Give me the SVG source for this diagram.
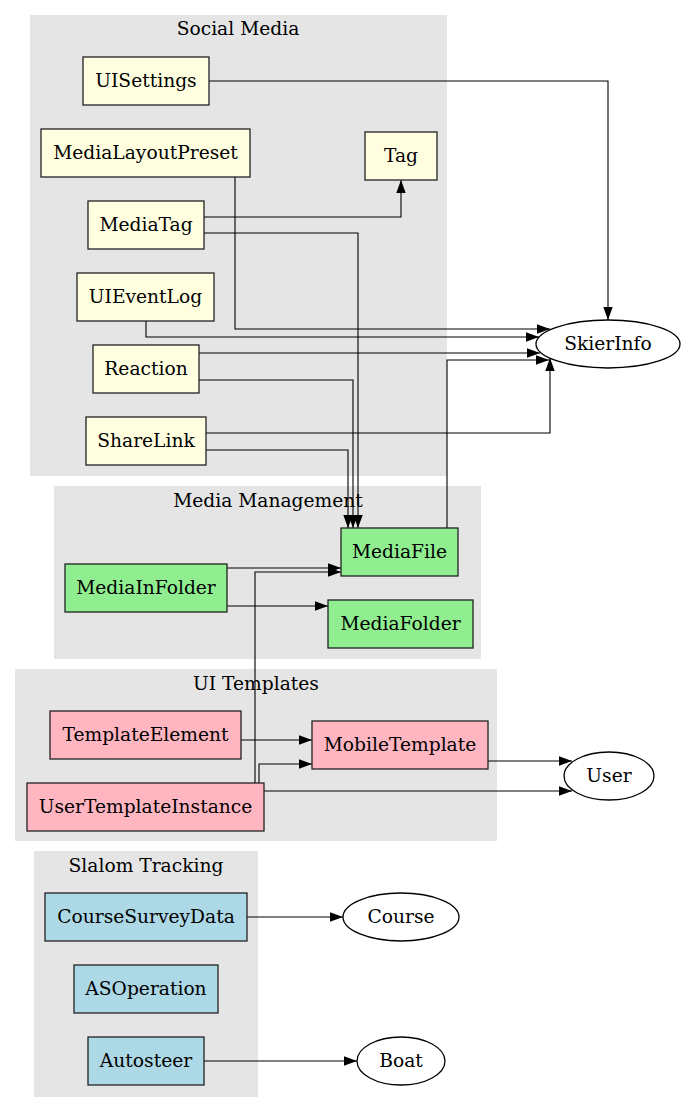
<svg xmlns="http://www.w3.org/2000/svg" width="682" height="1112" viewBox="0 0 682 1112">
<style>
  text { font-family: "DejaVu Serif", "Liberation Serif", serif; font-size: 18.67px; fill: #000; text-anchor: middle; }
  .cluster { fill: #e5e5e5; stroke: none; }
  .node rect, .node ellipse { stroke: #222; stroke-width: 1.3; }
  .sm rect { fill: #ffffe0; }
  .mm rect { fill: #90ee90; }
  .ui rect { fill: #ffb6c1; }
  .st rect { fill: #add8e6; }
  .ext ellipse { fill: #fff; stroke: #000; }
  .edges path { fill: none; stroke: #000; stroke-width: 1.1; marker-end: url(#arrow); }
</style>
<defs>
  <marker id="arrow" markerUnits="userSpaceOnUse" markerWidth="14" markerHeight="10" refX="13" refY="4.7" orient="auto">
    <path d="M0,0 L13,4.7 L0,9.4 z" fill="#000"/>
  </marker>
</defs>
<rect width="682" height="1112" fill="#fff"/>

<g id="cluster_social">
  <rect class="cluster" x="30" y="15" width="417" height="461"/>
  <text x="238" y="35">Social Media</text>
</g>
<g id="cluster_media">
  <rect class="cluster" x="54" y="486" width="427" height="173"/>
  <text x="268" y="507">Media Management</text>
</g>
<g id="cluster_ui">
  <rect class="cluster" x="15" y="669" width="482" height="172"/>
  <text x="256" y="690">UI Templates</text>
</g>
<g id="cluster_slalom">
  <rect class="cluster" x="34" y="851" width="224" height="246"/>
  <text x="146" y="872">Slalom Tracking</text>
</g>

<g id="edges" class="edges">
  <path d="M209,81 H608 V320"/>
  <path d="M235,177 V329 H550"/>
  <path d="M204,217 H401 V180"/>
  <path d="M204,233 H358 V528"/>
  <path d="M146,321 V337 H539"/>
  <path d="M199,353 H540"/>
  <path d="M199,380 H353 V528"/>
  <path d="M206,433 H550 V358"/>
  <path d="M206,450 H348 V528"/>
  <path d="M447,528 V360 H549"/>
  <path d="M227,568 H341"/>
  <path d="M227,606 H328"/>
  <path d="M255,783 V572 H341"/>
  <path d="M241,740 H312"/>
  <path d="M259,783 V764 H312"/>
  <path d="M488,761 H572"/>
  <path d="M264,791 H572"/>
  <path d="M247,917 H343"/>
  <path d="M204,1061 H357"/>
</g>

<g id="UISettings" class="node sm"><rect x="83" y="57" width="126" height="48"/><text x="146" y="87">UISettings</text></g>
<g id="MediaLayoutPreset" class="node sm"><rect x="41" y="129" width="209" height="48"/><text x="145.5" y="159">MediaLayoutPreset</text></g>
<g id="Tag" class="node sm"><rect x="365" y="132" width="72" height="48"/><text x="401" y="162">Tag</text></g>
<g id="MediaTag" class="node sm"><rect x="88" y="201" width="116" height="48"/><text x="146" y="231">MediaTag</text></g>
<g id="UIEventLog" class="node sm"><rect x="77" y="273" width="137" height="48"/><text x="145.5" y="303">UIEventLog</text></g>
<g id="Reaction" class="node sm"><rect x="93" y="345" width="106" height="48"/><text x="146" y="375">Reaction</text></g>
<g id="ShareLink" class="node sm"><rect x="86" y="417" width="120" height="48"/><text x="146" y="447">ShareLink</text></g>

<g id="MediaFile" class="node mm"><rect x="341" y="528" width="117" height="48"/><text x="399.5" y="558">MediaFile</text></g>
<g id="MediaInFolder" class="node mm"><rect x="65" y="564" width="162" height="48"/><text x="146" y="594">MediaInFolder</text></g>
<g id="MediaFolder" class="node mm"><rect x="328" y="600" width="145" height="48"/><text x="400.5" y="630">MediaFolder</text></g>

<g id="TemplateElement" class="node ui"><rect x="50" y="711" width="191" height="48"/><text x="145.5" y="741">TemplateElement</text></g>
<g id="MobileTemplate" class="node ui"><rect x="312" y="721" width="176" height="48"/><text x="400" y="751">MobileTemplate</text></g>
<g id="UserTemplateInstance" class="node ui"><rect x="27" y="783" width="237" height="48"/><text x="145.5" y="813">UserTemplateInstance</text></g>

<g id="CourseSurveyData" class="node st"><rect x="45" y="893" width="202" height="48"/><text x="146" y="923">CourseSurveyData</text></g>
<g id="ASOperation" class="node st"><rect x="74" y="965" width="144" height="48"/><text x="146" y="995">ASOperation</text></g>
<g id="Autosteer" class="node st"><rect x="88" y="1037" width="116" height="48"/><text x="146" y="1067">Autosteer</text></g>

<g id="SkierInfo" class="node ext"><ellipse cx="608" cy="344" rx="72" ry="24"/><text x="608" y="350">SkierInfo</text></g>
<g id="User" class="node ext"><ellipse cx="609" cy="776" rx="45" ry="24"/><text x="609" y="782">User</text></g>
<g id="Course" class="node ext"><ellipse cx="401" cy="917" rx="58" ry="24"/><text x="401" y="923">Course</text></g>
<g id="Boat" class="node ext"><ellipse cx="401" cy="1061" rx="44" ry="24"/><text x="401" y="1067">Boat</text></g>
</svg>
